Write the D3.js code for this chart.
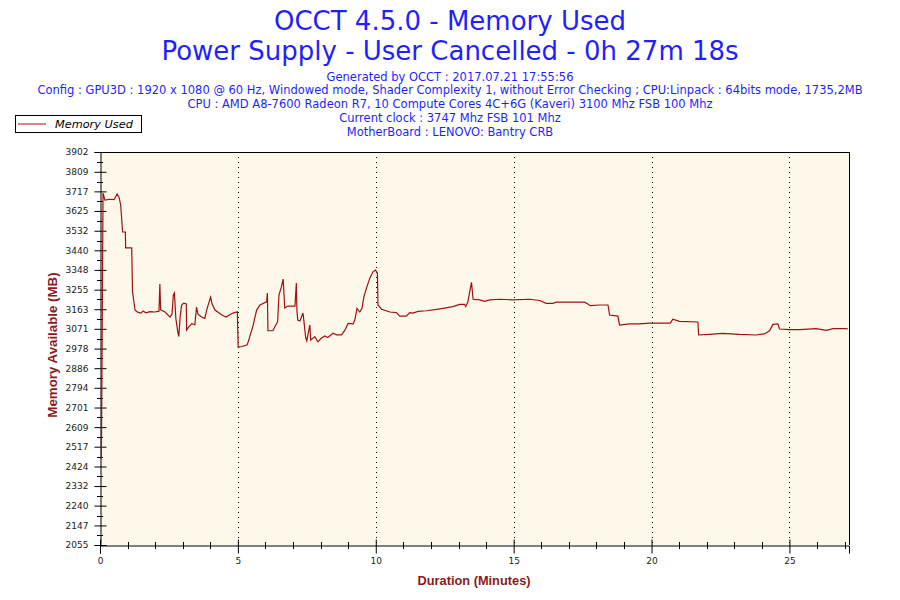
<!DOCTYPE html>
<html><head><meta charset="utf-8">
<script src="https://cdn.jsdelivr.net/npm/d3@7/dist/d3.min.js"></script>
<style>body{margin:0;background:#fff}svg{display:block}</style>
</head><body>
<svg id="c" width="900" height="600"></svg>
<script>
const titleLines = ["OCCT 4.5.0 - Memory Used", "Power Supply - User Cancelled - 0h 27m 18s"];
const infoLines = [
  "Generated by OCCT : 2017.07.21 17:55:56",
  "Config : GPU3D : 1920 x 1080 @ 60 Hz, Windowed mode, Shader Complexity 1, without Error Checking ; CPU:Linpack : 64bits mode, 1735,2MB",
  "CPU : AMD A8-7600 Radeon R7, 10 Compute Cores 4C+6G (Kaveri) 3100 Mhz FSB 100 Mhz",
  "Current clock : 3747 Mhz FSB 101 Mhz",
  "MotherBoard : LENOVO: Bantry CRB"
];
const seriesName = "Memory Used";
const yTickLabels = [2055,2147,2240,2332,2424,2517,2609,2701,2794,2886,2978,3071,3163,3255,3348,3440,3532,3625,3717,3809,3902];
const xTickLabels = [0,5,10,15,20,25];
const timeMin = [0.05,0.11,0.18,0.36,0.51,0.62,0.69,0.75,0.82,0.92,0.93,1.15,1.18,1.27,1.38,1.49,1.56,1.67,1.81,1.99,2.14,2.17,2.20,2.36,2.54,2.61,2.66,2.70,2.75,2.83,2.86,2.90,2.96,3.04,3.13,3.14,3.22,3.33,3.44,3.50,3.55,3.70,3.80,3.88,4.01,4.06,4.17,4.42,4.57,4.82,4.98,5.01,5.14,5.33,5.36,5.43,5.54,5.68,5.80,6.04,6.07,6.09,6.27,6.34,6.44,6.49,6.58,6.64,6.70,6.81,7.07,7.12,7.14,7.17,7.25,7.36,7.39,7.46,7.50,7.55,7.61,7.64,7.79,7.90,8.03,8.15,8.26,8.45,8.58,8.76,8.88,9.00,9.18,9.24,9.32,9.42,9.50,9.57,9.66,9.78,9.90,9.99,10.06,10.08,10.21,10.51,10.75,10.87,11.11,11.23,11.35,11.53,11.84,12.20,12.44,12.80,13.04,13.22,13.26,13.34,13.47,13.53,13.77,13.95,14.13,14.49,14.97,15.58,15.94,16.18,16.42,16.55,17.57,17.69,17.78,18.12,18.42,18.48,18.78,18.84,19.20,19.57,19.93,20.68,20.77,21.01,21.68,21.71,22.10,22.58,23.19,23.79,24.09,24.28,24.40,24.58,24.64,25.00,25.36,25.97,26.34,26.58,27.05,27.12];
const memoryMB = [2460,3709,3676,3680,3678,3705,3690,3653,3526,3526,3451,3451,3244,3159,3148,3145,3155,3146,3152,3150,3154,3282,3160,3150,3126,3140,3230,3240,3120,3050,3035,3120,3183,3192,3188,3065,3080,3095,3090,3173,3140,3125,3120,3165,3220,3190,3159,3136,3126,3145,3151,2985,2988,2995,3004,3034,3081,3159,3183,3198,3239,3062,3062,3081,3104,3230,3269,3305,3169,3178,3178,3286,3160,3112,3108,3145,3112,3028,3014,3050,3089,3018,3034,3010,3028,3037,3030,3050,3043,3043,3065,3097,3094,3112,3167,3150,3167,3222,3261,3308,3339,3347,3332,3183,3163,3150,3147,3131,3131,3147,3145,3153,3156,3162,3167,3175,3186,3186,3175,3198,3289,3210,3207,3200,3207,3210,3207,3210,3204,3191,3191,3196,3196,3188,3180,3183,3183,3136,3131,3089,3094,3094,3098,3098,3116,3106,3103,3042,3045,3050,3045,3042,3047,3062,3092,3094,3070,3067,3067,3072,3064,3072,3072,3070];

const svg = d3.select("#c");
const L = 100, R = 849, T = 152, B = 545;
const x = d3.scaleLinear().domain([0, 27.16]).range([L, R]);
const y = d3.scaleLinear().domain([2055, 3902]).range([B, T]);
const blue = "#1f1fff", red = "#a01010", axisRed = "#8b1a1a";

// titles
svg.selectAll(".t").data(titleLines).enter().append("text")
  .attr("x", 450).attr("y", (d,i) => 30 + i*29.5)
  .attr("text-anchor", "middle").attr("fill", blue)
  .style("font-family", "DejaVu Sans").style("font-size", "26px").text(d => d);
svg.selectAll(".i").data(infoLines).enter().append("text")
  .attr("x", 450).attr("y", (d,i) => 80.5 + i*13.9)
  .attr("text-anchor", "middle").attr("fill", blue)
  .style("font-family", "DejaVu Sans").style("font-size", "11.5px").text(d => d);

// legend
const lg = svg.append("g");
lg.append("rect").attr("x", 15.5).attr("y", 115.5).attr("width", 126).attr("height", 17)
  .attr("fill", "#fff").attr("stroke", "#000");
lg.append("line").attr("x1", 18).attr("x2", 46).attr("y1", 124).attr("y2", 124).attr("stroke", red);
lg.append("text").attr("x", 55).attr("y", 128).style("font-family", "DejaVu Sans")
  .style("font-size", "11.3px").style("font-style", "italic").attr("fill", "#000").text(seriesName);

// plot background
svg.append("rect").attr("x", L).attr("y", T).attr("width", R - L).attr("height", B - T).attr("fill", "#fef8ea");

// vertical dotted grid
svg.selectAll(".g").data(xTickLabels.filter(d => d > 0)).enter().append("line")
  .attr("x1", d => Math.round(x(d)) + 0.5).attr("x2", d => Math.round(x(d)) + 0.5)
  .attr("y1", T).attr("y2", B).attr("stroke", "#000").attr("stroke-dasharray", "1,4");

// frame
svg.append("line").attr("x1", L).attr("x2", R).attr("y1", T + 0.5).attr("y2", T + 0.5).attr("stroke", "#000");
svg.append("line").attr("x1", R + 0.5).attr("x2", R + 0.5).attr("y1", T).attr("y2", B).attr("stroke", "#000");

// y axis
const yAxis = d3.axisLeft(y).tickValues(yTickLabels).tickSize(6).tickFormat(d3.format("d"));
const gy = svg.append("g").attr("transform", `translate(${L + 0.5},0)`).call(yAxis);
gy.select(".domain").attr("stroke", "#000");
gy.selectAll(".tick line").attr("x2", -6).attr("x1", 6).attr("stroke", "#000");
gy.selectAll(".tick text").attr("x", -12).style("font-family", "DejaVu Sans").style("font-size", "9px").attr("fill", "#222");
const yMinor = d3.range(yTickLabels.length - 1).map(i => (yTickLabels[i] + yTickLabels[i+1]) / 2);
svg.selectAll(".ym").data(yMinor).enter().append("line")
  .attr("x1", L - 3).attr("x2", L + 3).attr("y1", d => Math.round(y(d)) + 0.5).attr("y2", d => Math.round(y(d)) + 0.5)
  .attr("stroke", "#000");

// x axis
const xAxis = d3.axisBottom(x).tickValues(xTickLabels).tickSize(8).tickFormat(d3.format("d"));
const gx = svg.append("g").attr("transform", `translate(0,${B + 0.5})`).call(xAxis);
gx.select(".domain").attr("stroke", "#000");
gx.selectAll(".tick line").attr("y1", -6).attr("y2", 8).attr("stroke", "#000");
gx.selectAll(".tick text").attr("y", 12).style("font-family", "DejaVu Sans").style("font-size", "9px").attr("fill", "#222");
const xMinor = d3.range(1, 28).filter(d => d % 5 !== 0);
svg.selectAll(".xm").data(xMinor).enter().append("line")
  .attr("x1", d => Math.round(x(d)) + 0.5).attr("x2", d => Math.round(x(d)) + 0.5)
  .attr("y1", B - 3).attr("y2", B + 4).attr("stroke", "#000");

// line (drawn on top of axes)
const line = d3.line().x((d,i) => x(timeMin[i])).y(d => y(d));
svg.append("path").datum(memoryMB).attr("d", line).attr("fill", "none")
  .attr("stroke", red).attr("stroke-width", 1.2);

// axis titles
svg.append("text").attr("x", 474).attr("y", 585).attr("text-anchor", "middle")
  .attr("fill", axisRed).style("font-family", "Liberation Sans").style("font-weight", "bold")
  .style("font-size", "12.8px").text("Duration (Minutes)");
svg.append("text").attr("transform", "translate(57,345) rotate(-90)").attr("text-anchor", "middle")
  .attr("fill", axisRed).style("font-family", "Liberation Sans").style("font-weight", "bold")
  .style("font-size", "13.3px").text("Memory Available (MB)");
</script>
</body></html>
